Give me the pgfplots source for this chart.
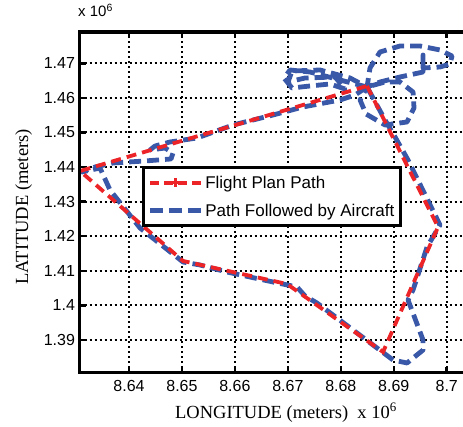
\documentclass[border=0pt]{standalone}
\usepackage{fontspec}
\setmainfont{Liberation Sans}
\newfontfamily\seriffont{Liberation Serif}
\usepackage{pgfplots}
\pgfplotsset{compat=1.18}
\definecolor{fpred}{RGB}{236,36,40}
\definecolor{fpblue}{RGB}{58,88,168}

\begin{document}
\begin{tikzpicture}
\begin{axis}[
  at={(79.5pt,53.4pt)}, anchor=south west,
  scale only axis, width=395.5pt, height=340.6pt,
  xmin=8.63065, xmax=8.70534, ymin=1.38058, ymax=1.47905,
  xtick={8.64,8.65,8.66,8.67,8.68,8.69,8.7},
  ytick={1.39,1.40,1.41,1.42,1.43,1.44,1.45,1.46,1.47},
  /pgf/number format/assume math mode=true,
  xmajorgrids=true, ymajorgrids=true,
  grid style={draw=black, line width=2pt, dash pattern=on 2pt off 3pt},
  major grid style={draw=black, line width=2pt, dash pattern=on 2pt off 3pt},
  tick align=inside, major tick length=6pt,
  every tick/.append style={draw=black, line width=2.5pt},
  axis line style={draw=black, line width=3.5pt},
  after end axis/.code={\draw[black, line width=3.5pt] (rel axis cs:0,0) rectangle (rel axis cs:1,1);},
  xticklabel style={font=\fontsize{16}{18}\selectfont, yshift=-4pt},
  yticklabel style={font=\fontsize{16}{18}\selectfont, xshift=-1pt},
  xlabel={LONGITUDE (meters)\ \ x 10\textsuperscript{6}},
  ylabel={LATITUDE (meters)},
  xlabel style={font=\seriffont\fontsize{18.5}{22}\selectfont, at={(axis description cs:0.5221,-0.1333)}, anchor=base},
  ylabel style={font=\seriffont\fontsize{18.5}{22}\selectfont, at={(axis description cs:-0.1302,0.486)}, anchor=base},
  title={x 10\textsuperscript{6}},
  title style={font=\fontsize{15}{18}\selectfont, at={(axis description cs:0,1)}, anchor=base west, inner sep=0pt, xshift=-1.5pt, yshift=9pt},
  legend cell align=left,
  legend style={at={(axis description cs:0.158,0.6051)}, anchor=north west,
    draw=black, line width=3pt, fill=white,
    font=\fontsize{17}{19}\selectfont, inner xsep=4pt, inner ysep=6pt,
    row sep=10pt},
  legend image code/.code={\draw[mark repeat=2,mark phase=2,#1] plot coordinates {(0pt,0pt) (25.5pt,0pt) (51pt,0pt)};},
]
\addlegendimage{fpred, line width=3.8pt, dash pattern=on 9pt off 5pt, mark=+, mark size=4.5pt, mark options={solid, line width=3pt}}
\addlegendentry{Flight Plan Path}
\addlegendimage{fpblue, line width=4.8pt, dash pattern=on 13pt off 6pt}
\addlegendentry{Path Followed by Aircraft}

\addplot[forget plot, fpblue, line width=4.8pt, dash pattern=on 12pt off 6pt, line join=round] table {
8.68495 1.46315
8.67985 1.46517
8.67418 1.46748
8.67041 1.46806
8.66927 1.46575
8.67078 1.46286
8.67418 1.46344
8.67796 1.46402
8.68079 1.46257
8.67891 1.46604
8.67324 1.46575
8.67003 1.46459
8.67078 1.46777
8.67607 1.46806
8.68174 1.46575
8.68495 1.46315
8.68551 1.46864
8.68740 1.47327
8.69118 1.47500
8.69496 1.47500
8.69873 1.47385
8.70100 1.47211
8.70062 1.46980
8.69873 1.46893
8.69553 1.46864
8.69553 1.47240
8.69553 1.46748
8.69118 1.46604
8.68740 1.46459
8.68495 1.46315
8.68363 1.45939
8.68476 1.45534
8.68835 1.45216
8.69250 1.45303
8.69382 1.45708
8.69364 1.46170
8.69118 1.46459
8.68835 1.46459
8.68495 1.46315
8.68268 1.46084
8.67985 1.45939
8.67286 1.45737
8.66720 1.45505
8.65964 1.45216
8.65284 1.44840
8.64774 1.44725
8.64491 1.44609
8.64397 1.44494
8.64680 1.44551
8.64831 1.44407
8.64793 1.44234
8.64302 1.44176
8.63698 1.44118
8.63358 1.44002
8.63112 1.43857
8.63452 1.43973
8.63641 1.43337
8.64208 1.42239
8.65020 1.41256
8.65341 1.41169
8.65851 1.40966
8.66720 1.40677
8.67173 1.40533
8.67324 1.40273
8.67550 1.40070
8.68986 1.38422
8.69250 1.38336
8.69553 1.38711
8.69553 1.39000
8.69269 1.40157
8.69364 1.40446
8.69628 1.41689
8.69873 1.42325
8.69269 1.44204
8.69024 1.44869
8.68835 1.45361
8.68495 1.46315
};

\addplot[forget plot, fpred, line width=3.8pt, dash pattern=on 10pt off 6pt] table {
8.68495 1.46344
8.69836 1.42267
8.68797 1.38654
8.66984 1.40620
8.65020 1.41285
8.63075 1.43886
8.68495 1.46344
};
\end{axis}
\pgfresetboundingbox
\path[use as bounding box] (0,0) rectangle (463pt,426pt);
\end{tikzpicture}
\end{document}
